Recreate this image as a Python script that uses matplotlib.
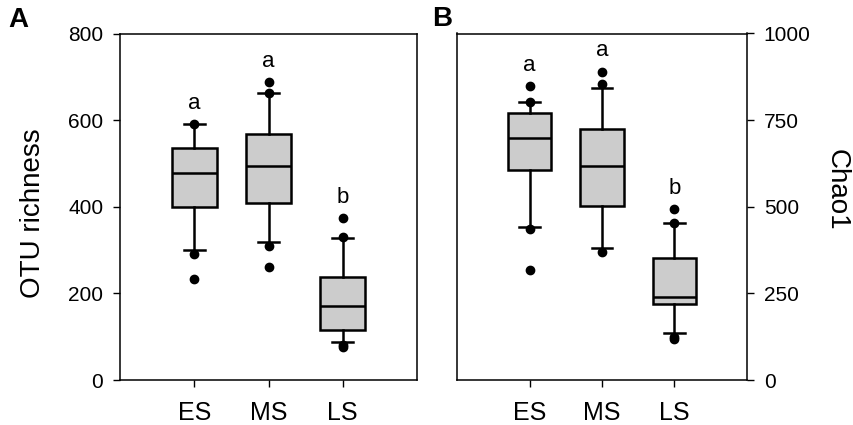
import matplotlib
matplotlib.use("Agg")
import matplotlib.pyplot as plt

plt.rcParams['font.family'] = ['Liberation Sans', 'DejaVu Sans']

groups = ["ES", "MS", "LS"]
letters = ["a", "a", "b"]

# panel A: OTU richness
otu_whislo = [300, 318, 88]
otu_q1 = [400, 408, 116]
otu_med = [477, 494, 172]
otu_q3 = [535, 568, 237]
otu_whishi = [590, 662, 328]
otu_fliers = [[591, 290, 233], [663, 688, 310, 260], [330, 374, 80, 77]]

# panel B: Chao1
chao_whislo = [442, 382, 135]
chao_q1 = [607, 501, 218]
chao_med = [697, 618, 239]
chao_q3 = [770, 724, 351]
chao_whishi = [803, 844, 452]
chao_fliers = [[803, 848, 435, 317], [853, 890, 369], [454, 493, 125, 118]]

BOX_LW = 1.8
FILL = '#cccccc'


def make_stats(whislo, q1, med, q3, whishi, fliers):
  stats = []
  for i in range(len(groups)):
    stats.append({"label": groups[i], "whislo": whislo[i], "q1": q1[i], "med": med[i],
                  "q3": q3[i], "whishi": whishi[i], "fliers": fliers[i]})
  return stats


def draw_panel(ax, stats, ymax, step):
  pos = list(range(1, len(stats) + 1))
  ax.bxp(stats, positions=pos, widths=0.6, capwidths=0.28, patch_artist=True,
         boxprops=dict(facecolor=FILL, edgecolor='black', linewidth=BOX_LW),
         medianprops=dict(color='black', linewidth=BOX_LW),
         whiskerprops=dict(color='black', linewidth=BOX_LW),
         capprops=dict(color='black', linewidth=BOX_LW),
         flierprops=dict(marker='o', markerfacecolor='black', markeredgecolor='black', markersize=6))
  # significance letters above the highest point
  for i, s in enumerate(stats):
    top = max([s["whishi"]] + list(s["fliers"]))
    ax.text(pos[i], top + 0.03 * ymax, letters[i], ha='center', va='bottom', fontsize=16)
  ax.set_xlim(0, 4)
  ax.set_ylim(0, ymax)
  ax.set_yticks(range(0, ymax + 1, step))
  ax.tick_params(axis='x', labelsize=18, length=5, width=1, pad=10)
  ax.tick_params(axis='y', labelsize=15, length=5, width=1, pad=7)
  for sp in ax.spines.values():
    sp.set_linewidth(1.1)


fig = plt.figure(figsize=(8.54, 4.25), dpi=100)
axA = fig.add_axes([120/854, 45/425, 297/854, 346.5/425])
axB = fig.add_axes([457/854, 45/425, 290/854, 346.5/425])

draw_panel(axA, make_stats(otu_whislo, otu_q1, otu_med, otu_q3, otu_whishi, otu_fliers), 800, 200)
axA.set_ylabel('OTU richness', fontsize=20, va='center')
axA.yaxis.set_label_coords(-0.293, 0.48)

draw_panel(axB, make_stats(chao_whislo, chao_q1, chao_med, chao_q3, chao_whishi, chao_fliers), 1000, 250)
axB.yaxis.tick_right()
axB.yaxis.set_label_position('right')
axB.set_ylabel('Chao1', fontsize=20, rotation=270, va='center')
axB.yaxis.set_label_coords(1.31, 0.55)

fig.text(18.5/854, 1 - 20/425, 'A', fontsize=20, fontweight='bold', ha='center', va='center')
fig.text(442/854, 1 - 19/425, 'B', fontsize=20, fontweight='bold', ha='center', va='center')

fig.savefig('out.png', dpi=100)
